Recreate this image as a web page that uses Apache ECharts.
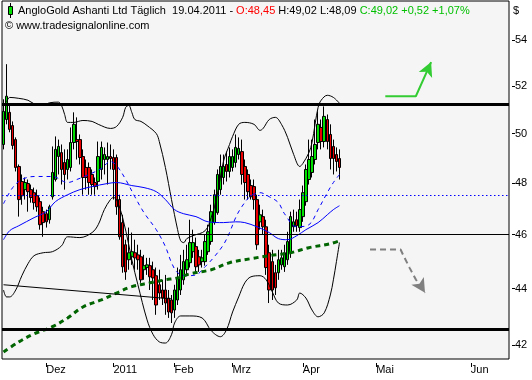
<!DOCTYPE html>
<html><head><meta charset="utf-8">
<script src="https://cdn.jsdelivr.net/npm/echarts@6/dist/echarts.min.js"></script>
<style>html,body{margin:0;padding:0;background:#fff}#c{width:532px;height:380px}</style>
</head><body><div id="c"></div>
<script>
// ---- data ----
const open  = [49.55,50.58,50.88,50.33,49.75,48.66,48.06,47.74,47.98,47.74,47.62,47.50,47.27,46.88,46.80,46.57,47.46,48.14,49.06,49.22,48.82,48.54,48.62,49.63,49.75,49.75,49.06,48.62,48.62,48.34,48.02,48.06,48.54,48.94,48.94,49.06,49.02,49.02,47.35,46.46,45.62,45.06,45.17,45.32,45.24,45.17,44.69,44.77,44.84,44.69,44.47,44.14,43.95,43.95,43.66,43.59,43.23,43.59,43.95,44.32,44.69,44.95,45.36,45.55,45.17,44.99,44.99,45.36,45.74,46.46,46.84,47.74,48.22,48.74,48.46,48.62,48.82,49.14,49.26,48.66,48.34,47.90,47.86,47.35,46.49,46.69,46.30,45.32,44.99,44.58,44.58,44.87,44.80,45.06,45.32,46.30,46.57,46.27,46.69,47.27,48.14,48.42,48.94,49.63,50.25,49.67,50.58,49.96,49.47,49.14,48.98];
const close = [50.92,51.56,50.17,49.51,48.62,47.35,47.50,48.02,47.66,47.43,47.23,47.07,46.38,46.46,46.49,47.07,48.42,49.35,49.47,48.54,48.34,48.94,49.63,50.38,49.67,49.02,48.22,48.22,48.02,47.94,47.86,49.06,49.43,49.14,49.06,48.98,48.54,47.07,45.92,44.80,44.61,45.32,45.36,45.13,45.06,44.32,44.84,44.87,44.43,44.39,43.41,43.84,43.66,43.48,43.16,43.13,43.95,44.39,44.69,44.99,45.06,45.70,45.70,44.80,44.87,45.13,45.74,46.11,46.88,47.54,48.34,48.66,48.66,48.46,49.06,49.06,49.43,49.39,48.34,48.02,47.66,47.46,47.35,45.62,46.76,46.30,44.77,43.95,43.95,44.03,45.06,45.13,45.32,45.74,46.69,46.49,46.34,46.96,47.62,48.54,48.94,49.06,49.55,50.38,49.67,50.71,49.67,48.98,48.98,48.86,48.62];
const high  = [51.43,52.94,51.22,50.50,49.84,48.74,48.34,48.22,48.14,47.94,47.82,47.74,47.43,47.07,46.96,47.15,49.47,49.88,49.75,49.55,49.35,49.35,50.25,50.88,50.67,49.96,49.35,48.94,48.82,48.54,48.22,49.67,49.67,49.43,49.63,49.55,49.35,49.14,47.54,46.76,45.81,46.27,46.08,45.81,45.62,45.43,45.24,45.13,45.13,44.99,44.77,44.69,44.32,44.50,43.95,43.77,44.14,44.77,45.24,45.43,45.62,46.57,46.19,45.89,45.43,45.43,46.00,46.38,47.15,47.74,48.54,49.14,49.14,49.26,49.43,49.35,49.96,49.84,49.75,48.94,48.54,48.14,48.14,47.54,47.15,46.96,46.57,45.62,45.43,44.87,45.43,45.43,45.62,46.11,46.88,46.96,46.88,47.35,47.90,48.74,49.75,49.75,50.58,50.92,50.58,51.13,50.79,50.38,49.75,49.43,49.35];
const low   = [49.35,50.38,50.05,49.35,48.46,46.69,47.15,47.35,46.88,47.23,46.96,46.88,46.19,45.92,46.27,46.42,47.35,48.06,48.34,47.94,47.74,48.14,48.46,49.35,48.94,48.74,47.54,47.74,47.54,47.54,47.54,47.74,48.14,48.34,47.94,48.54,47.35,46.76,45.81,44.58,44.32,44.69,44.87,44.69,44.69,44.21,44.32,44.50,43.95,43.59,43.06,43.59,43.41,43.06,42.95,42.77,42.95,43.41,43.77,44.14,44.50,44.77,45.13,44.61,44.61,44.77,44.84,45.24,45.62,46.38,46.76,47.54,47.94,48.06,48.22,48.46,48.62,48.94,47.94,47.35,47.35,47.35,46.96,45.43,46.19,46.00,44.50,43.48,43.59,43.77,44.32,44.69,44.61,44.87,45.13,46.11,46.11,46.11,46.49,47.11,47.94,48.22,48.74,49.35,49.35,49.43,49.35,48.54,48.34,48.46,48.14];

// indicator curves: [slot index, value]
const bbUpper = [[1,51.31],[2,51.51],[5,51.47],[8,51.39],[10,51.24],[13,51.17],[15,51.28],[18,51.31],[19,51.17],[20,50.79],[21,50.46],[23,50.46],[26,50.54],[29,50.50],[31,50.38],[35,50.21],[37,50.29],[39,50.67],[40,51.09],[41,51.17],[42,50.88],[43,50.58],[45,50.50],[47,50.33],[50,50.00],[51,49.67],[53,48.62],[55,47.35],[57,46.19],[58,45.77],[59,45.70],[60,45.85],[62,45.96],[66,46.15],[68,46.65],[70,47.54],[72,48.86],[74,49.55],[75,49.88],[77,50.38],[79,50.46],[82,50.38],[84,50.13],[85,50.21],[87,50.58],[89,50.67],[91,50.38],[93,49.84],[95,49.14],[97,48.66],[98,48.78],[100,49.22],[101,49.63],[102,50.38],[103,51.09],[104,51.39],[106,51.60],[108,51.51],[110,51.26]];
const bbLower = [[0,43.95],[1,43.70],[2,43.70],[4,43.95],[6,44.47],[8,44.91],[10,45.21],[13,45.32],[16,45.36],[19,45.58],[21,45.92],[25,45.89],[29,46.08],[31,46.38],[33,46.96],[35,47.35],[36,47.43],[37,47.35],[39,46.65],[41,45.62],[42,45.06],[44,44.14],[47,42.88],[49,42.36],[51,42.11],[53,42.07],[55,42.36],[56,42.77],[58,43.02],[61,43.02],[65,42.95],[68,42.50],[71,42.29],[73,42.53],[75,43.16],[77,43.70],[79,44.21],[81,44.43],[84,44.47],[86,44.32],[88,43.88],[90,43.48],[93,43.41],[96,43.59],[97,43.84],[99,43.66],[101,43.23],[103,42.99],[105,43.13],[107,43.77],[108,44.32],[109,44.99],[110,45.70]];
const maSlow = [[0,45.81],[2,46.15],[5,46.34],[10,46.65],[14,46.88],[17,47.27],[21,47.54],[25,47.74],[29,47.86],[34,47.98],[37,48.02],[42,47.90],[46,47.82],[50,47.66],[53,47.35],[56,46.96],[59,46.80],[63,46.69],[67,46.49],[72,46.46],[76,46.49],[79,46.46],[83,46.30],[87,46.08],[90,45.85],[93,45.81],[96,45.96],[99,46.19],[103,46.46],[106,46.76],[108,46.96],[110,47.11]];
const maFast = [[0,47.19],[3,47.82],[6,48.14],[10,48.26],[16,48.26],[21,48.02],[24,48.14],[28,48.34],[32,48.58],[35,48.86],[37,48.70],[40,48.14],[43,47.46],[46,46.84],[50,46.19],[53,45.55],[55,44.95],[57,44.58],[60,44.47],[63,44.50],[66,44.80],[69,45.17],[72,45.62],[74,46.08],[76,46.65],[78,47.07],[81,47.50],[84,47.62],[87,47.46],[90,47.23],[92,46.80],[96,46.30],[100,46.38],[103,46.96],[106,47.62],[108,48.02],[110,48.34]];
const maLong = [[0,41.76],[5,42.11],[10,42.39],[16,42.64],[21,42.95],[26,43.34],[32,43.59],[37,43.84],[42,44.07],[48,44.21],[53,44.32],[57,44.39],[61,44.54],[68,44.69],[74,44.95],[81,45.10],[87,45.21],[94,45.32],[100,45.51],[107,45.66],[110,45.77]];
const trendLine = [[0,44.14],[55,43.63]];
const levelsThick = [51.2, 42.55];
const levelThin = 46.0;
const levelDotted = 47.5;
const arrowUp = [[125,51.56],[135,51.56],[140,53.03]];
const arrowDown = [[120,45.44],[130,45.44],[131,45.20],[133,44.75],[135,44.33],[138,43.85]];

const slotCount = 166;
const categories = Array.from({length: slotCount}, (_, i) => 'd' + i);
const tickIdx = [14, 36, 56, 75, 98, 122, 153];
const tickLabels = ['Dez', '2011', 'Feb', 'Mrz', 'Apr', 'Mai', 'Jun'];
const yTicks = [42, 44, 46, 48, 50, 52, 54];

// ---- chart ----
const FONT = '"Liberation Sans", Arial, sans-serif';
const chart = echarts.init(document.getElementById('c'), null, {renderer: 'canvas'});
const isTick = (i) => tickIdx.indexOf(i) >= 0;

function curve(data, color, width, type, z, smooth) {
  return {type: 'line', data: data, symbol: 'none', showSymbol: false, smooth: smooth == null ? 0.35 : smooth,
    lineStyle: {color: color, width: width, type: type}, z: z, silent: true, animation: false};
}
function arrowSeries(data, color, rot, type) {
  const d = data.map((p, i) => i === data.length - 1
    ? {value: p, symbol: 'arrow', symbolSize: [11, 14], symbolRotate: rot, itemStyle: {color: color}}
    : {value: p, symbol: 'none'});
  return {type: 'line', data: d, showSymbol: true, showAllSymbol: true, symbol: 'none',
    lineStyle: {color: color, width: 2, type: type}, itemStyle: {color: color}, z: 6, silent: true, animation: false};
}

chart.setOption({
  animation: false,
  backgroundColor: '#ffffff',
  textStyle: {fontFamily: FONT},
  grid: {left: 2, right: 23, top: 1, bottom: 21, show: true, backgroundColor: '#f5f5f5',
    borderColor: '#000', borderWidth: 1, outerBoundsMode: 'none', containLabel: false},
  xAxis: {
    type: 'category', data: categories, boundaryGap: true, offset: 4,
    axisLine: {show: false},
    axisTick: {show: true, alignWithLabel: true, interval: (i) => isTick(i), length: 4, lineStyle: {color: '#000'}},
    axisLabel: {interval: (i) => isTick(i), formatter: (v, i) => {const k = tickIdx.indexOf(i); return k >= 0 ? tickLabels[k] : '';},
      align: 'left', margin: 1, fontSize: 11, color: '#000', fontFamily: FONT},
    splitLine: {show: false}
  },
  yAxis: {
    type: 'log', logBase: 10, min: 41.52, max: 55.77, position: 'right', offset: 3,
    axisLine: {show: false},
    axisTick: {show: true, length: 3, customValues: yTicks, lineStyle: {color: '#000'}},
    axisLabel: {customValues: yTicks, margin: 3, fontSize: 11, color: '#000', fontFamily: FONT},
    splitLine: {show: false}
  },
  series: [
    {type: 'candlestick', data: open.map((o, i) => [o, close[i], low[i], high[i]]), barWidth: 3, z: 2,
      itemStyle: {color: '#00e000', color0: '#ea0000', borderColor: '#000', borderColor0: '#000', borderWidth: 1},
      silent: true, animation: false},
    curve(bbUpper, '#000000', 1, 'solid', 3),
    curve(bbLower, '#000000', 1, 'solid', 3),
    curve(maSlow, '#0000ff', 1, 'solid', 3),
    curve(maFast, '#0000ff', 1, [4, 4], 3),
    curve(maLong, '#006400', 3, [5, 4], 3),
    {type: 'line', data: [], symbol: 'none', z: 5, silent: true,
      markLine: {silent: true, symbol: 'none', label: {show: false}, animation: false,
        data: [
          {yAxis: levelsThick[0], lineStyle: {color: '#000', width: 3, type: 'solid'}},
          {yAxis: levelsThick[1], lineStyle: {color: '#000', width: 3, type: 'solid'}},
          {yAxis: levelThin, lineStyle: {color: '#000', width: 1, type: 'solid'}},
          {yAxis: levelDotted, lineStyle: {color: '#0000ff', width: 1.2, type: [1.5, 2.5]}},
          [{coord: trendLine[0], lineStyle: {color: '#000', width: 1, type: 'solid'}}, {coord: trendLine[1]}]
        ]}},
    arrowSeries(arrowUp, '#33cc33', -24, 'solid'),
    arrowSeries(arrowDown, '#808080', 212, [6, 4])
  ],
  graphic: [
    {type: 'line', shape: {x1: 10.5, y1: 3, x2: 10.5, y2: 18}, style: {stroke: '#000', lineWidth: 1}, z: 10},
    {type: 'rect', shape: {x: 8.5, y: 6.5, width: 4, height: 8}, style: {fill: '#00e000', stroke: '#000', lineWidth: 1}, z: 11},
    {type: 'text', x: 18, y: 11, z: 10, style: {
      text: '{k|AngloGold Ashanti Ltd Täglich  19.04.2011 - }{r|O:48,45}{k| H:49,02 L:48,09 }{g|C:49,02 +0,52 +1,07%}',
      verticalAlign: 'middle', font: '11px ' + FONT,
      rich: {k: {fill: '#000', fontSize: 11, fontFamily: FONT}, r: {fill: '#ff0000', fontSize: 11, fontFamily: FONT}, g: {fill: '#00c000', fontSize: 11, fontFamily: FONT}}}},
    {type: 'text', x: 5, y: 26, z: 10, style: {text: '© www.tradesignalonline.com', verticalAlign: 'middle', font: '11px ' + FONT, fill: '#000'}},
    {type: 'text', x: 513, y: 11, z: 10, style: {text: '$', verticalAlign: 'middle', font: '11px ' + FONT, fill: '#000'}}
  ]
});
</script>
</body></html>
